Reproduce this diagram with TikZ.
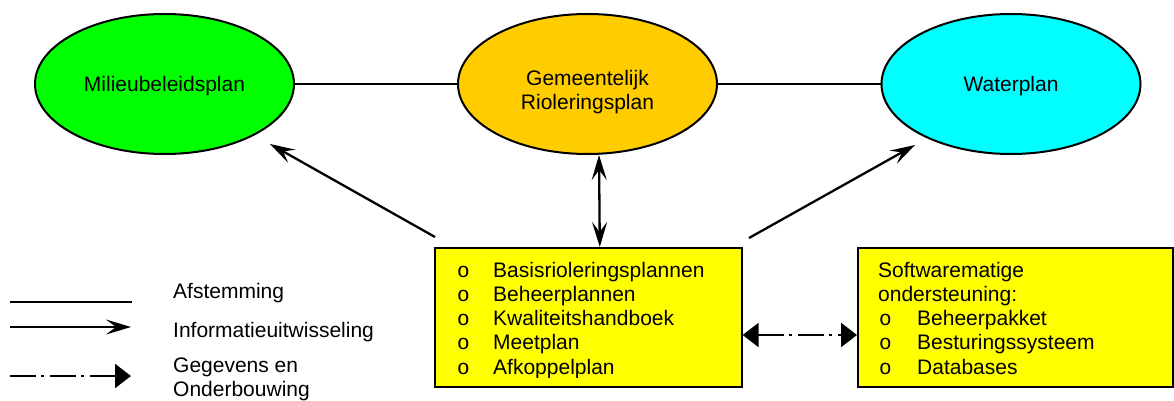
\documentclass[tikz,border=0pt]{standalone}
\usepackage{fontspec}
\setmainfont{Liberation Sans}
\newfontfamily\bulletfont{Liberation Mono}
\usetikzlibrary{shapes.geometric,arrows.meta,calc}
\definecolor{grn}{RGB}{0,255,0}
\definecolor{org}{RGB}{255,204,0}
\definecolor{cyn}{RGB}{0,255,255}
\definecolor{ylw}{RGB}{255,255,0}
\begin{document}
\begin{tikzpicture}[x=1pt,y=-1pt,
  plan/.style={ellipse,draw=black,line width=2pt,minimum width=259pt,minimum height=140pt,inner sep=0pt},
  box/.style={draw=black,line width=1.6pt,fill=ylw,anchor=north west,inner sep=0pt},
  txt/.style={anchor=base west,inner sep=0pt,font=\fontsize{21}{24}\selectfont},
  ctxt/.style={anchor=base,inner sep=0pt,font=\fontsize{21}{24}\selectfont},
  bul/.style={anchor=base west,inner sep=0pt,font=\bulletfont\fontsize{21}{24}\selectfont},
  link/.style={line width=2pt},
  info/.style={line width=2.3pt,-{Stealth[length=25pt,width=15pt,inset=10pt]}},
  infoboth/.style={line width=2.3pt,{Stealth[length=25pt,width=15pt,inset=10pt]}-{Stealth[length=25pt,width=15pt,inset=10pt]}},
  data/.style={line width=2.3pt,dash pattern=on 26pt off 5pt on 3pt off 6pt},
  datahead/.style={-{Triangle[length=16pt,width=24pt]}},
  databoth/.style={{Triangle[length=16pt,width=24pt]}-{Triangle[length=16pt,width=24pt]}},
]
\useasboundingbox (0,0) rectangle (1174,401);

% plans
\node[plan,fill=grn] (milieu) at (164.5,84) {};
\node[plan,fill=org] (grp) at (587.5,84) {};
\node[plan,fill=cyn] (water) at (1011,84) {};
\node[ctxt] (milieutxt) at (164.5,92) {Milieubeleidsplan};
\node[ctxt] (grptxt1) at (587.5,86) {Gemeentelijk};
\node[ctxt] (grptxt2) at (587.5,110) {Rioleringsplan};
\node[ctxt] (watertxt) at (1011,92) {Waterplan};

\draw[link] (milieu.east) -- (grp.west);
\draw[link] (grp.east) -- (water.west);

% boxes
\node[box,minimum width=307pt,minimum height=139pt] (main) at (434,247) {};
\node[box,minimum width=315pt,minimum height=139pt] (soft) at (857,247) {};

\begin{scope}
\clip (434,248) rectangle (741,377);
\foreach \t [count=\i] in {Basisrioleringsplannen,Beheerplannen,Kwaliteitshandboek,Meetplan,Afkoppelplan}{
  \node[bul] (mb\i) at (457,{277+24.25*(\i-1)}) {o};
  \node[txt] (mt\i) at (493,{277+24.25*(\i-1)}) {\t};
}
\end{scope}

\begin{scope}
\clip (857,248) rectangle (1172,377);
\node[txt] (st1) at (878,277) {Softwarematige};
\node[txt] (st2) at (878,301.25) {ondersteuning:};
\foreach \t [count=\i] in {Beheerpakket,Besturingssysteem,Databases}{
  \node[bul] (sb\i) at (879,{325.5+24.25*(\i-1)}) {o};
  \node[txt] (sl\i) at (917,{325.5+24.25*(\i-1)}) {\t};
}
\end{scope}

% information arrows
\coordinate (lstart) at (435,237);
\coordinate (ltip) at (270,144);
\coordinate (rstart) at (749,238);
\coordinate (rtip) at (915,145);
\draw[info] (lstart) -- (ltip);
\draw[info] (rstart) -- (rtip);
\draw[infoboth] ($(grp.south)+(11.5,0)$) -- ($(main.north)+(11.5,0)$);

% data arrow
\coordinate (ddy) at (0,335);
\draw[data,databoth] (main.east |- ddy) -- (soft.west |- ddy);

% legend
\coordinate (l1a) at (10,302);
\coordinate (l1b) at (132,302);
\coordinate (l2a) at (10,327);
\coordinate (l2b) at (131,327);
\coordinate (l3a) at (10,376);
\coordinate (l3b) at (131,376);
\draw[link] (l1a) -- (l1b);
\draw[info] (l2a) -- (l2b);
\draw[data,datahead] (l3a) -- (l3b);
\node[txt] (lg1) at (173,298) {Afstemming};
\node[txt] (lg2) at (173,337) {Informatieuitwisseling};
\node[txt] (lg3) at (173,372) {Gegevens en};
\node[txt] (lg4) at (173,396.5) {Onderbouwing};
\end{tikzpicture}
\end{document}
